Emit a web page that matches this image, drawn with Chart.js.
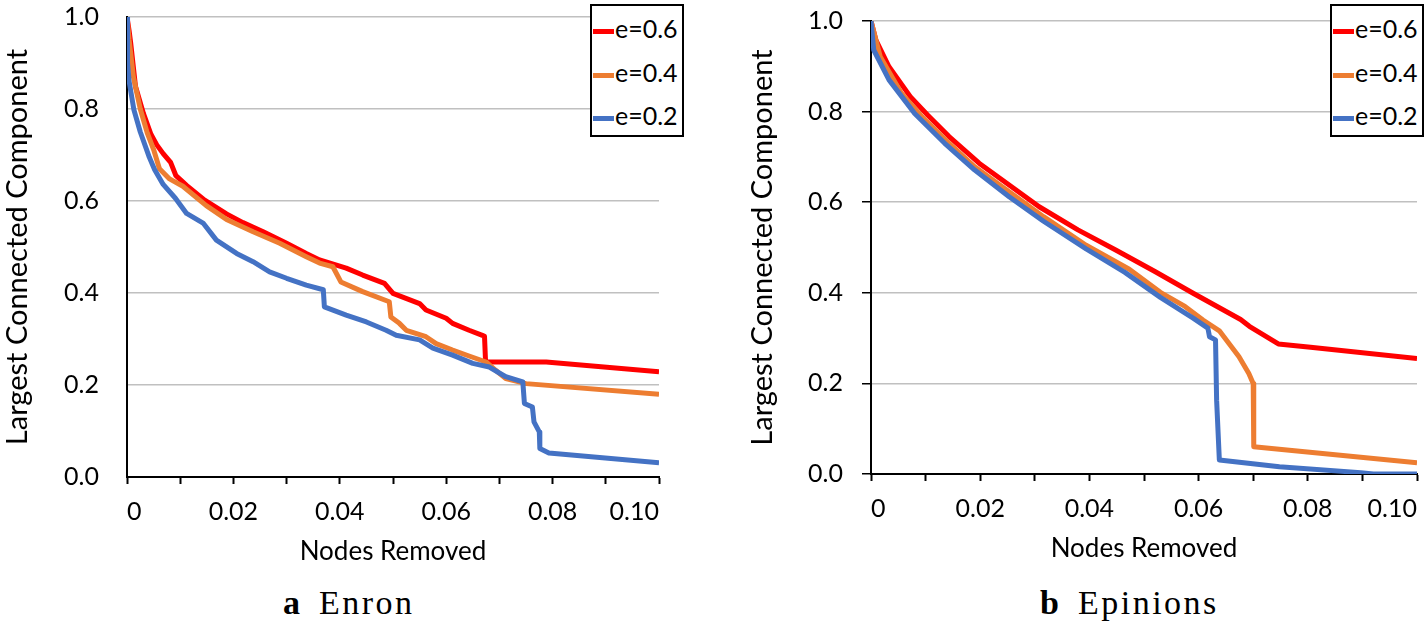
<!DOCTYPE html>
<html>
<head>
<meta charset="utf-8">
<script src="https://cdn.jsdelivr.net/npm/chart.js@4/dist/chart.umd.min.js"></script>
<style>
    html, body { margin: 0; padding: 0; background: #fff; overflow: hidden; width: 1427px; height: 624px; }
    .panel { position: absolute; top: 0; }
    #left-panel { left: 0; width: 700px; height: 567px; }
    #right-panel { left: 745px; width: 685px; height: 564px; }
    .legend { position: absolute; top: 4px; width: 94px; height: 133px; border: 2px solid #000; background: #fff; box-sizing: border-box; font-family: Lato, sans-serif; font-size: 25px; color: #000; }
    .legend .row { position: absolute; left: 1px; height: 30px; line-height: 30px; white-space: nowrap; }
    .legend .swatch { display: inline-block; width: 21px; height: 5px; vertical-align: middle; margin-right: 1px; }
    .caption { position: absolute; top: 586px; font-family: 'Liberation Serif', serif; font-size: 34px; line-height: 34px; color: #000; white-space: nowrap; letter-spacing: 2.5px; }
    .caption b { margin-right: 19px; letter-spacing: 0; }
</style>
</head>
<body>
<div class="panel" id="left-panel"><canvas id="enron-chart"></canvas></div>
<div class="panel" id="right-panel"><canvas id="epinions-chart"></canvas></div>
<div class="legend" id="legend-left" style="left:590px"></div>
<div class="legend" id="legend-right" style="left:1330px"></div>
<div class="caption" style="left:283px"><b>a</b>Enron</div>
<div class="caption" style="left:1040px"><b>b</b>Epinions</div>

<script>
// series names and colours (same for both panels)
const seriesNames = ['e=0.6', 'e=0.4', 'e=0.2'];
const seriesColors = ['#FF0000', '#ED7D31', '#4472C4'];

// Enron: [nodes removed, largest connected component]
const enron06 = [[0, 1.0], [0.0004, 0.97], [0.0007, 0.943], [0.0016, 0.849], [0.0031, 0.790], [0.0045, 0.745],
    [0.0056, 0.722], [0.0068, 0.703], [0.0082, 0.684], [0.0092, 0.655], [0.0112, 0.634], [0.0146, 0.602],
    [0.0187, 0.572], [0.0218, 0.553], [0.0256, 0.533], [0.030, 0.508], [0.0337, 0.486], [0.0362, 0.472],
    [0.0412, 0.454], [0.0443, 0.439], [0.0484, 0.421], [0.050, 0.399], [0.055, 0.377], [0.0562, 0.363],
    [0.060, 0.345], [0.0612, 0.334], [0.0643, 0.319], [0.0668, 0.308], [0.0672, 0.306], [0.0674, 0.250],
    [0.0788, 0.250], [0.1, 0.229]];
const enron04 = [[0, 1.0], [0.0004, 0.95], [0.0012, 0.87], [0.0025, 0.80], [0.0038, 0.748], [0.005, 0.712],
    [0.0061, 0.670], [0.008, 0.648], [0.0105, 0.632], [0.0149, 0.590], [0.0187, 0.560], [0.0237, 0.533],
    [0.0287, 0.508], [0.0337, 0.479], [0.0362, 0.465], [0.0387, 0.457], [0.0402, 0.424], [0.0443, 0.403],
    [0.0493, 0.381], [0.0496, 0.348], [0.0512, 0.334], [0.0525, 0.319], [0.0562, 0.305], [0.0581, 0.290],
    [0.0612, 0.276], [0.0643, 0.263], [0.0675, 0.250], [0.0693, 0.232], [0.0712, 0.214], [0.075, 0.203],
    [0.1, 0.180]];
const enron02 = [[0, 1.0], [0.0001, 0.90], [0.0004, 0.860], [0.0013, 0.798], [0.0025, 0.750], [0.0042, 0.695],
    [0.0052, 0.668], [0.0068, 0.636], [0.0091, 0.606], [0.0112, 0.573], [0.0143, 0.552], [0.0168, 0.515],
    [0.0206, 0.486], [0.0237, 0.468], [0.0268, 0.446], [0.030, 0.432], [0.0337, 0.417], [0.0369, 0.407],
    [0.0371, 0.370], [0.0412, 0.352], [0.045, 0.337], [0.0487, 0.319], [0.0506, 0.308], [0.055, 0.298],
    [0.0575, 0.280], [0.0612, 0.265], [0.065, 0.247], [0.0681, 0.239], [0.0712, 0.218], [0.0744, 0.207],
    [0.0747, 0.160], [0.0762, 0.152], [0.0765, 0.120], [0.0775, 0.098], [0.0776, 0.062], [0.0793, 0.052],
    [0.1, 0.031]];

// Epinions
const epinions06 = [[0, 1.0], [0.0009, 0.958], [0.0033, 0.899], [0.0072, 0.833], [0.0104, 0.792], [0.0143, 0.745],
    [0.0198, 0.686], [0.0253, 0.638], [0.0308, 0.590], [0.0379, 0.539], [0.0449, 0.494], [0.052, 0.447],
    [0.059, 0.399], [0.0677, 0.341], [0.0693, 0.326], [0.0746, 0.287], [0.0805, 0.280], [0.1, 0.255]];
const epinions04 = [[0, 1.0], [0.0017, 0.921], [0.0056, 0.840], [0.0096, 0.785], [0.0143, 0.730], [0.019, 0.678],
    [0.0253, 0.623], [0.0316, 0.568], [0.0394, 0.505], [0.0473, 0.452], [0.053, 0.401], [0.0575, 0.370],
    [0.0608, 0.340], [0.0638, 0.316], [0.0674, 0.259], [0.0692, 0.222], [0.0700, 0.200], [0.0701, 0.060],
    [0.1, 0.025]];
const epinions02 = [[0, 1.0], [0.0005, 0.936], [0.0033, 0.870], [0.008, 0.796], [0.0135, 0.730], [0.019, 0.671],
    [0.0253, 0.612], [0.0316, 0.558], [0.0394, 0.497], [0.0465, 0.445], [0.053, 0.390], [0.059, 0.344],
    [0.0617, 0.322], [0.062, 0.303], [0.0631, 0.296], [0.0633, 0.163], [0.0638, 0.031], [0.0748, 0.016],
    [0.0897, 0.003], [0.092, 0.0], [0.1, 0.0]];

const xTitle = 'Nodes Removed';
const yTitle = 'Largest Connected Component';

const tickFont = { family: 'Lato', size: 25 };

function makeChart(id, series, geo) {
    const datasets = series.map((pts, i) => ({
        label: seriesNames[i],
        data: pts.map(p => ({ x: p[0], y: p[1] })),
        borderColor: seriesColors[i],
        backgroundColor: seriesColors[i],
        borderWidth: 5,
        pointRadius: 0,
        tension: 0,
        borderJoinStyle: 'round',
        order: 3 - i
    }));

    return new Chart(document.getElementById(id), {
        type: 'line',
        data: { datasets },
        options: {
            responsive: true,
            maintainAspectRatio: false,
            animation: false,
            layout: { padding: { top: geo.top, right: geo.right, bottom: 0, left: 0 } },
            plugins: { legend: { display: false }, tooltip: { enabled: false } },
            scales: {
                x: {
                    type: 'linear',
                    min: 0,
                    max: 0.1,
                    afterFit: s => { s.height = geo.xHeight; },
                    border: { color: '#000', width: 2 },
                    grid: { drawOnChartArea: false, drawTicks: true, tickLength: 7, tickColor: '#000', tickWidth: 2 },
                    ticks: {
                        stepSize: 0.01,
                        autoSkip: false,
                        maxRotation: 0,
                        align: 'inner',
                        padding: 13,
                        color: '#000',
                        font: tickFont,
                        callback: v => {
                            const k = Math.round(v * 100);
                            if (k % 2) return '';
                            return k === 0 ? '0' : (k / 100).toFixed(2);
                        }
                    },
                    title: { display: true, text: xTitle, color: '#000', font: { family: 'Lato', size: 26 }, padding: 0 }
                },
                y: {
                    min: 0,
                    max: 1,
                    afterFit: s => {
                        s.width = geo.yWidth;
                        // keep the plot top where the layout padding puts it
                        s.paddingTop = 0;
                        s.paddingBottom = 0;
                    },
                    border: { color: '#000', width: 2 },
                    grid: { color: '#C0C0C0', lineWidth: 1.5, drawTicks: geo.yTicks, tickLength: 9, tickColor: '#000', tickWidth: 1.5 },
                    ticks: {
                        stepSize: 0.2,
                        padding: geo.yTicks ? 19 : 28,
                        color: '#000',
                        font: tickFont,
                        callback: v => v.toFixed(1)
                    },
                    title: { display: true, text: yTitle, color: '#000', font: { family: 'Lato', size: 29 }, padding: 0 }
                }
            }
        }
    });
}

function makeLegend(id) {
    const box = document.getElementById(id);
    const tops = [7, 51, 94];
    seriesNames.forEach((name, i) => {
        const row = document.createElement('div');
        row.className = 'row';
        row.style.top = tops[i] + 'px';
        row.innerHTML = `<span class="swatch" style="background:${seriesColors[i]}"></span>${name}`;
        box.appendChild(row);
    });
}

makeChart('enron-chart', [enron06, enron04, enron02], { top: 17, right: 41, xHeight: 90, yWidth: 127, yTicks: false });
makeChart('epinions-chart', [epinions06, epinions04, epinions02], { top: 21, right: 0, xHeight: 90, yWidth: 126, yTicks: true });
makeLegend('legend-left');
makeLegend('legend-right');
</script>
</body>
</html>
